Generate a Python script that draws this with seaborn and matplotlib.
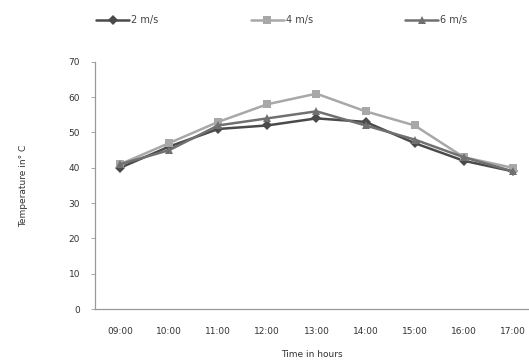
import pandas as pd
import matplotlib
matplotlib.use('Agg')
import matplotlib.pyplot as plt
import seaborn as sns

# --- data ---
hours = ['09:00', '10:00', '11:00', '12:00', '13:00', '14:00', '15:00', '16:00', '17:00']
temp_2ms = [40, 46, 51, 52, 54, 53, 47, 42, 39]
temp_4ms = [41, 47, 53, 58, 61, 56, 52, 43, 40]
temp_6ms = [41, 45, 52, 54, 56, 52, 48, 43, 39]
series_names = ['2 m/s', '4 m/s', '6 m/s']

rows = []
for name, vals in zip(series_names, [temp_2ms, temp_4ms, temp_6ms]):
    for i, v in enumerate(vals):
        rows.append({'idx': i, 'Temp': v, 'Speed': name})
df = pd.DataFrame(rows)

sns.set_style('white')
plt.rcParams['font.family'] = ['DejaVu Sans']

fig = plt.figure(figsize=(5.29, 3.64), dpi=100)
ax = fig.add_axes([0.1805, 0.151, 0.8195, 0.679])

palette = {'2 m/s': '#4a4a4a', '4 m/s': '#a8a8a8', '6 m/s': '#707070'}
markers = {'2 m/s': 'D', '4 m/s': 's', '6 m/s': '^'}
sns.lineplot(data=df, x='idx', y='Temp', hue='Speed', style='Speed',
             palette=palette, markers=markers, dashes=False,
             linewidth=1.8, markersize=5.5, markeredgewidth=0, ax=ax)

ax.set_xlim(-0.5, 8.33)
ax.set_ylim(0, 70)
ax.set_yticks(range(0, 71, 10))
ax.set_xticks(range(len(hours)))
ax.set_xticklabels(hours)
ax.tick_params(axis='both', labelsize=6.5, colors='#333333', length=3, direction='out')
ax.tick_params(axis='x', length=0, pad=13)
ax.tick_params(axis='y', left=True, width=0.6, color='#999999', pad=8)
for s in ['top', 'right']:
    ax.spines[s].set_visible(False)
for s in ['left', 'bottom']:
    ax.spines[s].set_color('#999999')
    ax.spines[s].set_linewidth(0.9)

ax.set_xlabel('Time in hours', fontsize=6.5, color='#333333', labelpad=10)
ax.set_ylabel('Temperature in\u00b0 C', fontsize=6.5, color='#333333', labelpad=29)

handles, labels = ax.get_legend_handles_labels()
ax.legend_.remove()
fig.legend(handles, labels, loc='center', bbox_to_anchor=(0.533, 0.945), ncol=3,
           frameon=False, fontsize=7, columnspacing=9.5, handlelength=3.4,
           handletextpad=0.2, labelcolor='#444444')

fig.savefig('out.png', dpi=100)
